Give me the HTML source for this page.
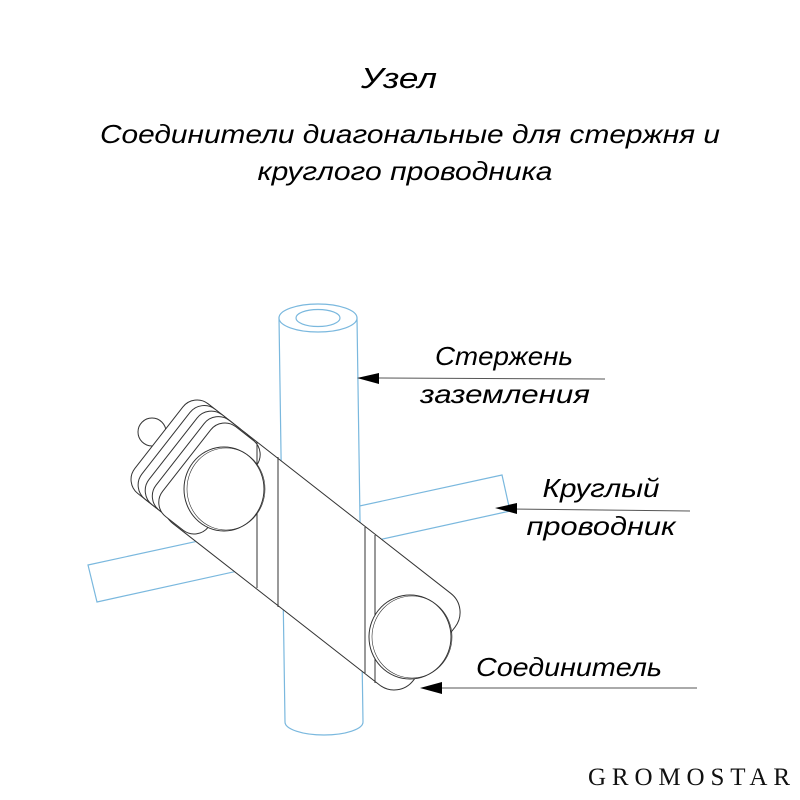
<!DOCTYPE html>
<html><head><meta charset="utf-8"><style>html,body{margin:0;padding:0;background:#fff}svg{display:block}</style></head>
<body>
<svg width="800" height="800" viewBox="0 0 800 800" xmlns="http://www.w3.org/2000/svg">
<g font-family="Liberation Sans, sans-serif" font-style="italic" fill="#000">
<text x="399" y="88" font-size="29" text-anchor="middle" textLength="76" lengthAdjust="spacingAndGlyphs">Узел</text>
<text x="410" y="143" font-size="26" text-anchor="middle" textLength="620" lengthAdjust="spacingAndGlyphs">Соединители диагональные для стержня и</text>
<text x="405" y="180" font-size="26" text-anchor="middle" textLength="295" lengthAdjust="spacingAndGlyphs">круглого проводника</text>
<text x="504" y="365" font-size="26" text-anchor="middle" textLength="138" lengthAdjust="spacingAndGlyphs">Стержень</text>
<text x="505" y="403" font-size="26" text-anchor="middle" textLength="170" lengthAdjust="spacingAndGlyphs">заземления</text>
<text x="601" y="497" font-size="26" text-anchor="middle" textLength="117" lengthAdjust="spacingAndGlyphs">Круглый</text>
<text x="601" y="535" font-size="26" text-anchor="middle" textLength="149" lengthAdjust="spacingAndGlyphs">проводник</text>
<text x="569" y="676" font-size="26" text-anchor="middle" textLength="186" lengthAdjust="spacingAndGlyphs">Соединитель</text>
</g>
<text x="588" y="785" font-family="Liberation Serif, serif" font-size="25" fill="#111" textLength="202" lengthAdjust="spacing">GROMOSTAR</text>

<path d="M88,565 L502,475 L510,511 L97,602 Z" fill="#fff" stroke="#7ab8de" stroke-width="1.2"/>
<path d="M279,318 L285,722 A39,13 0 0 0 363,722 L357,318 Z" fill="#fff" stroke="#7ab8de" stroke-width="1.2"/>
<ellipse cx="318" cy="318" rx="39" ry="14" fill="#fff" stroke="#7ab8de" stroke-width="1.2"/>
<ellipse cx="318" cy="318" rx="22" ry="8.5" fill="#fff" stroke="#7ab8de" stroke-width="1.2"/>

<circle cx="152" cy="432" r="14" fill="#fff" stroke="#333" stroke-width="1"/>
<g transform="translate(257,442) rotate(38)" stroke="#333" stroke-width="1" fill="#fff">
<rect x="-40" y="0" width="310" height="116" rx="24"/>
<rect x="-80" y="0" width="58" height="114" rx="18"/>
<rect x="-71" y="0" width="58" height="114" rx="18"/>
<rect x="-62" y="0" width="58" height="114" rx="18"/>
<rect x="-53" y="0" width="58" height="114" rx="18"/>
<rect x="-44" y="1" width="58" height="114" rx="18"/>
</g>
<g stroke="#333" stroke-width="1">
<line x1="257" y1="442" x2="257" y2="588"/>
<line x1="278" y1="457" x2="278" y2="607"/>
<line x1="365" y1="527" x2="365" y2="673"/>
<line x1="375" y1="535" x2="375" y2="683"/>
</g>
<ellipse cx="224" cy="489" rx="40" ry="42" fill="#fff" stroke="#333" stroke-width="1"/>
<ellipse cx="226" cy="489" rx="39" ry="41" fill="none" stroke="#333" stroke-width="0.6"/>
<ellipse cx="410" cy="637" rx="41" ry="42" fill="#fff" stroke="#333" stroke-width="1"/>
<ellipse cx="412" cy="637" rx="40" ry="41" fill="none" stroke="#333" stroke-width="0.6"/>

<g stroke="#555" stroke-width="1">
<line x1="372" y1="378" x2="605" y2="379"/>
<line x1="510" y1="509" x2="690" y2="511"/>
<line x1="436" y1="688" x2="697" y2="688"/>
</g>
<g fill="#000">
<polygon points="357,378 379,373 379,384"/>
<polygon points="495,508 517,503 517,514"/>
<polygon points="420,688 442,682 442,694"/>
</g>
</svg>
</body></html>
